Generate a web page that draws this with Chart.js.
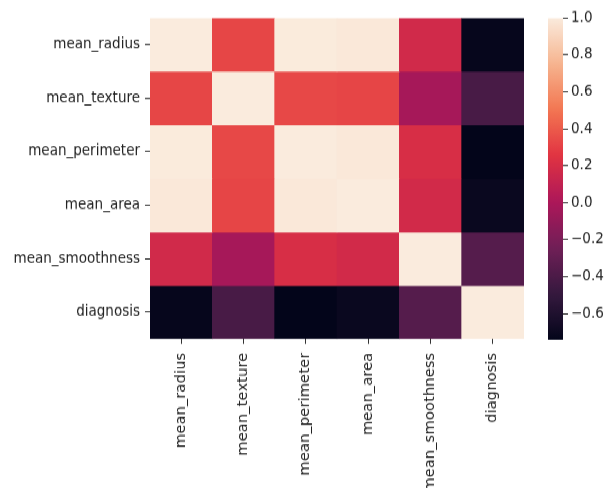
<!DOCTYPE html>
<html>
<head>
<meta charset="utf-8">
<script src="https://cdn.jsdelivr.net/npm/chart.js@4/dist/chart.umd.min.js"></script>
<style>
  html, body { margin: 0; padding: 0; background: #fff; overflow: hidden; width: 605px; height: 488px; }
  /* figure is drawn at 605x444 and stretched vertically to fill 488px */
  #wrap { position: relative; width: 605px; height: 444px; transform: scale(1, 1.1); transform-origin: 0 0; }
  #heat { position: absolute; left: 0; top: 0; }
  #cbar { position: absolute; left: 530px; top: 0; }
</style>
</head>
<body>
<div id="wrap">
  <canvas id="heat" width="605" height="444"></canvas>
  <canvas id="cbar" width="75" height="444"></canvas>
</div>
<script>
// Feature names (rows and columns of the correlation matrix)
const features = ['mean_radius', 'mean_texture', 'mean_perimeter', 'mean_area', 'mean_smoothness', 'diagnosis'];

// Pearson correlation rows
const rowRadius     = [ 1.0000,  0.3238,  0.9979,  0.9874,  0.1706, -0.7300];
const rowTexture    = [ 0.3238,  1.0000,  0.3295,  0.3211, -0.0234, -0.4152];
const rowPerimeter  = [ 0.9979,  0.3295,  1.0000,  0.9865,  0.2073, -0.7426];
const rowArea       = [ 0.9874,  0.3211,  0.9865,  1.0000,  0.1770, -0.7090];
const rowSmoothness = [ 0.1706, -0.0234,  0.2073,  0.1770,  1.0000, -0.3586];
const rowDiagnosis  = [-0.7300, -0.4152, -0.7426, -0.7090, -0.3586,  1.0000];
const corrRows = [rowRadius, rowTexture, rowPerimeter, rowArea, rowSmoothness, rowDiagnosis];

// Colour bar tick values
const cbarTicks = [-0.6, -0.4, -0.2, 0.0, 0.2, 0.4, 0.6, 0.8, 1.0];

const vmin = Math.min(...corrRows.flat());
const vmax = Math.max(...corrRows.flat());

// "rocket" colormap anchors
const rocketStops = [
  [0.0,     [3, 5, 26]],
  [1 / 7,   [53, 25, 62]],
  [2 / 7,   [112, 31, 87]],
  [3 / 7,   [173, 23, 89]],
  [4 / 7,   [225, 51, 66]],
  [5 / 7,   [243, 118, 81]],
  [6 / 7,   [246, 180, 143]],
  [1.0,     [250, 235, 221]]
];
function rocket(t) {
  t = Math.max(0, Math.min(1, t));
  for (let i = 1; i < rocketStops.length; i++) {
    const [t1, c1] = rocketStops[i];
    const [t0, c0] = rocketStops[i - 1];
    if (t <= t1) {
      const f = (t - t0) / (t1 - t0);
      const c = c0.map((v, k) => Math.round(v + (c1[k] - v) * f));
      return `rgb(${c[0]},${c[1]},${c[2]})`;
    }
  }
  const c = rocketStops[rocketStops.length - 1][1];
  return `rgb(${c[0]},${c[1]},${c[2]})`;
}
const norm = v => (v - vmin) / (vmax - vmin);

const FONT = { family: 'DejaVu Sans', size: 13.5 };
const TEXT = '#222';
const TICK = '#333';

// Heatmap: each row is a dataset of floating bars spanning [row, row + 1]
const datasets = corrRows.map((row, i) => ({
  label: features[i],
  data: row.map(() => [i, i + 1]),
  backgroundColor: row.map(v => rocket(norm(v))),
  borderWidth: 0,
  grouped: false,
  barPercentage: 1,
  categoryPercentage: 1
}));

new Chart(document.getElementById('heat'), {
  type: 'bar',
  data: { labels: features, datasets },
  options: {
    responsive: false,
    animation: false,
    layout: { padding: { top: 16.4, right: 81, left: 0, bottom: 0 } },
    plugins: { legend: { display: false }, tooltip: { enabled: false } },
    scales: {
      x: {
        grid: { offset: false, drawOnChartArea: false, drawTicks: true, tickLength: 4.5, color: TICK, tickWidth: 1 },
        border: { display: false },
        ticks: { autoSkip: false, minRotation: 90, maxRotation: 90, padding: 8, color: TEXT, font: FONT },
        afterFit: s => { s.height = 135.8; }
      },
      y: {
        type: 'linear',
        min: 0,
        max: features.length,
        reverse: true,
        grid: { drawOnChartArea: false, drawTicks: true, tickLength: 5, color: TICK, tickWidth: 1 },
        border: { display: false },
        afterBuildTicks: s => { s.ticks = features.map((_, i) => ({ value: i + 0.5 })); },
        ticks: {
          padding: 5, color: TEXT, font: FONT,
          callback: v => features[Math.floor(v)]
        },
        afterFit: s => { s.width = 150; }
      }
    }
  }
});

// Colour bar: a single floating bar filled with the colormap gradient
new Chart(document.getElementById('cbar'), {
  type: 'bar',
  data: {
    labels: ['corr'],
    datasets: [{
      data: [[vmin, vmax]],
      borderWidth: 0,
      barPercentage: 1,
      categoryPercentage: 1,
      backgroundColor: ctx => {
        const chart = ctx.chart;
        const y = chart.scales.y;
        if (!chart.chartArea || !y) return 'rgba(0,0,0,0)';
        const g = chart.ctx.createLinearGradient(0, y.getPixelForValue(vmin), 0, y.getPixelForValue(vmax));
        for (let k = 0; k <= 40; k++) g.addColorStop(k / 40, rocket(k / 40));
        return g;
      }
    }]
  },
  options: {
    responsive: false,
    animation: false,
    layout: { padding: { top: 16.4, left: 18, right: 0, bottom: 134.9 } },
    plugins: { legend: { display: false }, tooltip: { enabled: false } },
    scales: {
      x: { display: false },
      y: {
        position: 'right',
        min: vmin,
        max: vmax,
        grid: { drawOnChartArea: false, drawTicks: true, tickLength: 5, color: TICK, tickWidth: 1 },
        border: { display: false },
        afterBuildTicks: s => { s.ticks = cbarTicks.map(v => ({ value: v })); },
        ticks: {
          padding: 3, color: TEXT, font: FONT,
          callback: v => (v < 0 ? '\u2212' : '') + Math.abs(v).toFixed(1)
        },
        afterFit: s => { s.width = 42; }
      }
    }
  }
});
</script>
</body>
</html>
